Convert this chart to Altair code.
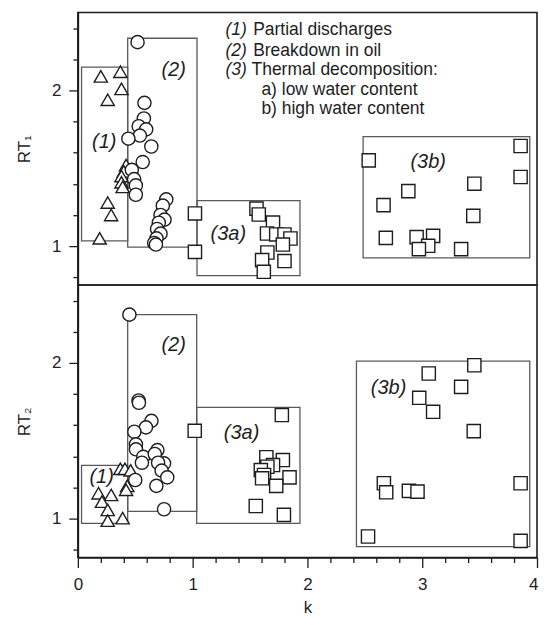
import altair as alt
import pandas as pd

FONT = "Liberation Sans"
INK = "#1e1e1e"
BOX = "#5a5a5a"

# ---------------- data: top panel (RT1) ----------------
t_tri_k = [0.20, 0.37, 0.38, 0.26, 0.42, 0.40, 0.38, 0.38, 0.39, 0.26, 0.29, 0.19]
t_tri_rt = [2.09, 2.12, 2.01, 1.94, 1.52, 1.48, 1.45, 1.41, 1.38, 1.28, 1.20, 1.05]

t_cir_k = [0.52, 0.58, 0.575, 0.53, 0.595, 0.54, 0.44, 0.64, 0.565, 0.47, 0.49, 0.505, 0.505,
           0.77, 0.74, 0.72, 0.755, 0.705, 0.69, 0.72, 0.685, 0.665, 0.68]
t_cir_rt = [2.31, 1.92, 1.82, 1.77, 1.75, 1.71, 1.69, 1.64, 1.54, 1.49, 1.43, 1.39, 1.33,
            1.30, 1.26, 1.20, 1.17, 1.15, 1.11, 1.08, 1.05, 1.02, 1.01]

t_sqa_k = [1.02, 1.02, 1.556, 1.576, 1.70, 1.648, 1.728, 1.80, 1.852, 1.786, 1.651, 1.605, 1.80, 1.62]
t_sqa_rt = [1.21, 0.963, 1.241, 1.203, 1.151, 1.081, 1.075, 1.075, 1.049, 1.010, 0.959, 0.910, 0.904, 0.835]

t_sqb_k = [2.534, 3.857, 3.857, 3.454, 2.879, 2.663, 3.445, 2.683, 2.951, 3.095, 3.052, 2.971, 3.339]
t_sqb_rt = [1.551, 1.643, 1.444, 1.401, 1.353, 1.263, 1.194, 1.053, 1.058, 1.066, 1.002, 0.981, 0.981]

# ---------------- data: bottom panel (RT2) ----------------
b_tri_k = [0.37, 0.41, 0.46, 0.43, 0.42, 0.18, 0.29, 0.21, 0.26, 0.26, 0.39]
b_tri_rt = [1.32, 1.32, 1.31, 1.21, 1.185, 1.163, 1.152, 1.109, 1.056, 0.987, 1.003]

b_cir_k = [0.449, 0.529, 0.532, 0.641, 0.593, 0.492, 0.506, 0.506, 0.570, 0.558, 0.693, 0.670,
           0.751, 0.699, 0.730, 0.779, 0.684, 0.500, 0.751]
b_cir_rt = [2.310, 1.759, 1.744, 1.628, 1.586, 1.558, 1.477, 1.445, 1.397, 1.359, 1.440, 1.415,
            1.355, 1.359, 1.308, 1.265, 1.210, 1.248, 1.060]

b_sqa_k = [1.018, 1.777, 1.642, 1.786, 1.700, 1.651, 1.594, 1.622, 1.605, 1.844, 1.728, 1.550, 1.795]
b_sqa_rt = [1.564, 1.665, 1.394, 1.376, 1.344, 1.333, 1.312, 1.280, 1.259, 1.265, 1.210, 1.081, 1.024]

b_sqb_k = [3.454, 3.057, 3.339, 2.974, 3.095, 3.449, 2.666, 2.686, 2.884, 2.959, 3.857, 2.528, 3.857]
b_sqb_rt = [1.985, 1.932, 1.846, 1.776, 1.686, 1.562, 1.227, 1.169, 1.178, 1.173, 1.227, 0.885, 0.857]

# ---------------- region boxes ----------------
box_names = ["(1)", "(2)", "(3a)", "(3b)"]
t_box_k0 = [0.032, 0.434, 1.038, 2.485]
t_box_k1 = [0.434, 1.038, 1.935, 3.937]
t_box_r0 = [1.034, 0.994, 0.810, 0.925]
t_box_r1 = [2.149, 2.335, 1.292, 1.703]
b_box_k0 = [0.032, 0.434, 1.035, 2.427]
b_box_k1 = [0.434, 1.035, 1.935, 3.937]
b_box_r0 = [0.970, 1.047, 0.970, 0.820]
b_box_r1 = [1.342, 2.310, 1.714, 2.011]

# region label anchors
t_lab_k = [0.230, 0.834, 1.311, 3.052]
t_lab_rt = [1.669, 2.128, 1.081, 1.540]
b_lab_k = [0.207, 0.834, 1.426, 2.707]
b_lab_rt = [1.269, 2.113, 1.547, 1.836]

# legend text
leg_num = ["(1)", "(2)", "(3)"]
leg_txt = ["Partial discharges", "Breakdown in oil", "Thermal decomposition:",
           "a) low water content", "b) high water content"]
leg_num_k = [1.286, 1.286, 1.286]
leg_txt_k = [1.527, 1.527, 1.513, 1.599, 1.599]
leg_rt = [2.385, 2.256, 2.128, 2.000, 1.882]

x_ticks = [round(i * 0.2, 1) for i in range(21)]
y_ticks = [0.8, 1.0, 1.2, 1.4, 1.6, 1.8, 2.0, 2.2, 2.4]

groups = ["Partial discharges", "Breakdown in oil", "Thermal low", "Thermal high"]
shapes = ["triangle-up", "circle", "square", "square"]
sizes = [175, 175, 130, 130]


def points_df(tk, trt, ck, crt, ak, art, bk, brt):
    rows = []
    for g, ks, rs in zip(groups, [tk, ck, ak, bk], [trt, crt, art, brt]):
        for k, r in zip(ks, rs):
            rows.append({"k": k, "rt": r, "group": g})
    return pd.DataFrame(rows)


X_SCALE = alt.Scale(domain=[0, 4], nice=False, zero=False)
Y_SCALE = alt.Scale(domain=[0.75, 2.5], nice=False, zero=False)
MAJOR = "abs(datum.value - round(datum.value)) < 0.001"


def y_axis(title):
    return alt.Axis(
        title=title, values=y_ticks, grid=False,
        labelExpr=f"{MAJOR} ? format(datum.value, 'd') : ''",
        tickSize={"condition": {"test": MAJOR, "value": 9}, "value": 5},
        labelPadding=8, titlePadding=18,
    )


def x_axis(show):
    if not show:
        return None
    return alt.Axis(
        title="k", values=x_ticks, grid=False,
        labelExpr=f"{MAJOR} ? format(datum.value, 'd') : ''",
        labelAlign={"condition": {"test": "datum.value > 3.99", "value": "right"}, "value": "center"},
        labelOffset={"condition": {"test": "datum.value > 3.99", "value": 1}, "value": 0},
        tickSize={"condition": {"test": MAJOR, "value": 10}, "value": 5},
        labelPadding=9, titlePadding=7, labelFlush=False,
    )


def panel(pts, bk0, bk1, br0, br1, lk, lrt, ytitle, show_x, legend):
    xa = x_axis(show_x)
    ya = y_axis(ytitle)
    boxes = pd.DataFrame({"name": box_names, "k": bk0, "k2": bk1, "rt": br0, "rt2": br1})
    labels = pd.DataFrame({"name": box_names, "k": lk, "rt": lrt})

    def X():
        return alt.X("k:Q", scale=X_SCALE, axis=xa)

    def Y():
        return alt.Y("rt:Q", scale=Y_SCALE, axis=ya)

    box_layer = alt.Chart(boxes).mark_rect(
        fillOpacity=0, stroke=BOX, strokeWidth=1.3
    ).encode(x=X(), x2="k2:Q", y=Y(), y2="rt2:Q")

    pt_layer = alt.Chart(pts).mark_point(
        filled=False, fill="white", fillOpacity=1, stroke=INK, strokeWidth=1.4, opacity=1
    ).encode(
        x=X(), y=Y(),
        shape=alt.Shape("group:N", scale=alt.Scale(domain=groups, range=shapes), legend=None),
        size=alt.Size("group:N", scale=alt.Scale(domain=groups, range=sizes), legend=None),
    )

    lab_layer = alt.Chart(labels).mark_text(
        font=FONT, fontSize=20, fontStyle="italic", color=INK, align="center", baseline="middle"
    ).encode(x=X(), y=Y(), text="name:N")

    layers = [box_layer, pt_layer, lab_layer]
    if legend:
        ln = pd.DataFrame({"t": leg_num, "k": leg_num_k, "rt": leg_rt[:3]})
        lt = pd.DataFrame({"t": leg_txt, "k": leg_txt_k, "rt": leg_rt})
        layers.append(alt.Chart(ln).mark_text(
            font=FONT, fontSize=17.5, fontStyle="italic", color=INK, align="left", baseline="middle"
        ).encode(x=X(), y=Y(), text="t:N"))
        layers.append(alt.Chart(lt).mark_text(
            font=FONT, fontSize=17.5, color=INK, align="left", baseline="middle"
        ).encode(x=X(), y=Y(), text="t:N"))
    return alt.layer(*layers).properties(width=460, height=273)


top_pts = points_df(t_tri_k, t_tri_rt, t_cir_k, t_cir_rt, t_sqa_k, t_sqa_rt, t_sqb_k, t_sqb_rt)
bot_pts = points_df(b_tri_k, b_tri_rt, b_cir_k, b_cir_rt, b_sqa_k, b_sqa_rt, b_sqb_k, b_sqb_rt)

top = panel(top_pts, t_box_k0, t_box_k1, t_box_r0, t_box_r1, t_lab_k, t_lab_rt, "RT\u2081", False, True)
bot = panel(bot_pts, b_box_k0, b_box_k1, b_box_r0, b_box_r1, b_lab_k, b_lab_rt, "RT\u2082", True, False)

chart = alt.vconcat(top, bot, spacing=0, bounds="flush").properties(
    padding={"left": 6, "top": 3, "right": 0, "bottom": 0}
).configure_view(
    stroke=INK, strokeWidth=1.6
).configure_axis(
    labelFont=FONT, titleFont=FONT, labelFontSize=17, titleFontSize=17,
    titleFontWeight="normal", labelColor=INK, titleColor=INK,
    tickColor=INK, domainColor=INK, tickWidth=1.3, domainWidth=1.6,
).configure_concat(spacing=0)

chart.save("out.html", embed_options={"renderer": "svg", "actions": False})
